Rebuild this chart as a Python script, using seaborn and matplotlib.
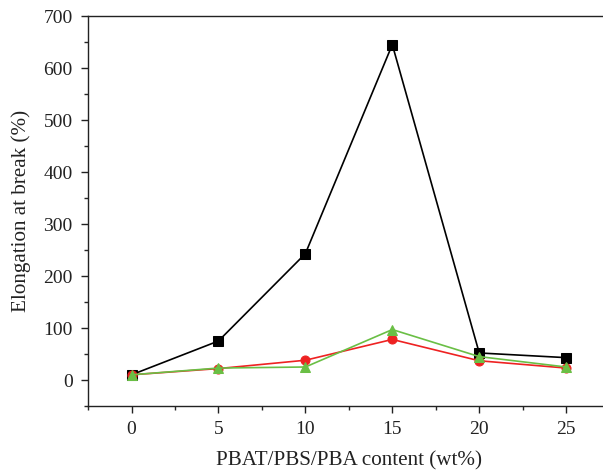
import pandas as pd
import matplotlib.pyplot as plt
import seaborn as sns
from matplotlib.ticker import MultipleLocator

# données
contenu = [0, 5, 10, 15, 20, 25]
serie_noire = [10, 75, 243, 645, 52, 43]
serie_rouge = [10, 22, 38, 78, 37, 23]
serie_verte = [10, 23, 25, 97, 45, 25]

sns.set_style("ticks")
plt.rcParams['font.family'] = ['Liberation Serif', 'DejaVu Serif']

fig = plt.figure(figsize=(6.03, 4.71), dpi=100)
ax = fig.add_axes([0.146, 0.138, 0.865, 0.828])

sns.lineplot(x=contenu, y=serie_noire, color="black", marker="s", markersize=6.5,
             markeredgecolor="black", linewidth=1.2, ax=ax)
sns.lineplot(x=contenu, y=serie_rouge, color="#ee2222", marker="o", markersize=6.5,
             markeredgecolor="#ee2222", linewidth=1.2, ax=ax)
sns.lineplot(x=contenu, y=serie_verte, color="#6abf45", marker="^", markersize=7.5,
             markeredgecolor="#6abf45", linewidth=1.2, ax=ax)

ax.set_xlim(-2.5, 27.5)
ax.set_ylim(-50, 700)
ax.set_xticks(contenu)
ax.xaxis.set_minor_locator(MultipleLocator(2.5))
ax.yaxis.set_major_locator(MultipleLocator(100))
ax.yaxis.set_minor_locator(MultipleLocator(50))
ax.tick_params(which="major", direction="out", length=5, width=1, labelsize=14,
               colors="#222222", pad=6)
ax.tick_params(which="minor", direction="out", length=3, width=1)
for s in ax.spines.values():
    s.set_linewidth(1)
    s.set_color("#222222")

ax.set_xlabel("PBAT/PBS/PBA content (wt%)", fontsize=15.2, color="#222222", labelpad=9)
ax.set_ylabel("Elongation at break (%)", fontsize=15.2, color="#222222", labelpad=9)

fig.savefig("out.png", dpi=100)
